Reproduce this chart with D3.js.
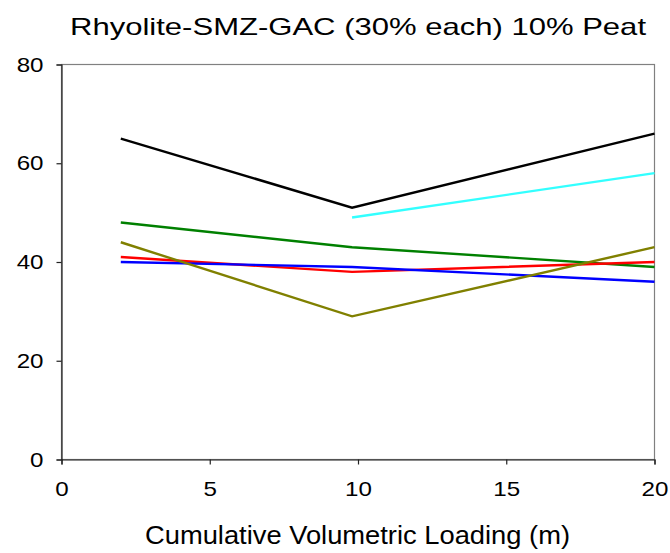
<!DOCTYPE html>
<html><head><meta charset="utf-8">
<script src="https://cdn.jsdelivr.net/npm/d3@7"></script>
<style>body{margin:0;background:#fff}svg{display:block}text{font-family:"Liberation Sans",Arial,sans-serif;fill:#000}</style>
</head><body>
<svg id="c" width="670" height="553"></svg>
<script>
const xValues = [2, 9.8, 20];
const seriesNames = ["black", "cyan", "green", "red", "blue", "olive"];
const seriesColors = ["#000000", "#33ffff", "#008000", "#ff0000", "#0000ff", "#808000"];
const blackVals = [65, 51, 66];
const cyanVals = [null, 49, 58];
const greenVals = [48, 43, 39];
const redVals = [41, 38, 40];
const blueVals = [40, 39, 36];
const oliveVals = [44, 29, 43];
const xTicks = [0, 5, 10, 15, 20];
const yTicks = [0, 20, 40, 60, 80];
const titleText = "Rhyolite-SMZ-GAC (30% each) 10% Peat";
const xLabel = "Cumulative Volumetric Loading (m)";

const series = [blackVals, cyanVals, greenVals, redVals, blueVals, oliveVals];
const svg = d3.select("#c");
const L = 61.5, R = 654.5, T = 64.5, B = 459.5;
const x = d3.scaleLinear().domain([0, 20]).range([L, R]);
const y = d3.scaleLinear().domain([0, 80]).range([B, T]);

svg.append("rect").attr("x", L).attr("y", T).attr("width", R - L).attr("height", B - T)
  .attr("fill", "none").attr("stroke", "#808080").attr("stroke-width", 1.2);

const line = d3.line().defined(d => d[1] != null).x(d => x(d[0])).y(d => y(d[1]));
series.forEach((vals, i) => {
  svg.append("path").datum(xValues.map((xv, j) => [xv, vals[j]]))
    .attr("d", line).attr("fill", "none").attr("stroke", seriesColors[i])
    .attr("stroke-width", 2.4).attr("stroke-linejoin", "miter");
});

const xa = svg.append("g").attr("transform", `translate(0,${B})`)
  .call(d3.axisBottom(x).tickValues(xTicks).tickSize(5).tickPadding(17).tickFormat(d3.format("d")));
const ya = svg.append("g").attr("transform", `translate(${L},0)`)
  .call(d3.axisLeft(y).tickValues(yTicks).tickSize(5).tickPadding(13).tickFormat(d3.format("d")));
[xa, ya].forEach(a => {
  a.select(".domain").attr("stroke", "#222").attr("stroke-width", 1.2);
  a.selectAll(".tick line").attr("stroke", "#222").attr("stroke-width", 1.2);
  a.selectAll(".tick text").attr("font-size", 21).attr("font-family", "Liberation Sans, Arial, sans-serif").attr("fill", "#111")
    .each(function () { const n = this.getComputedTextLength(); d3.select(this).attr("textLength", n * 1.15).attr("lengthAdjust", "spacingAndGlyphs"); });
});

svg.append("text").attr("x", 70).attr("y", 35)
  .attr("font-size", 24).attr("textLength", 576).attr("lengthAdjust", "spacingAndGlyphs").attr("fill", "#111").text(titleText);
svg.append("text").attr("x", 145).attr("y", 544)
  .attr("font-size", 25).attr("textLength", 425).attr("lengthAdjust", "spacingAndGlyphs").attr("fill", "#111").text(xLabel);
</script>
</body></html>
